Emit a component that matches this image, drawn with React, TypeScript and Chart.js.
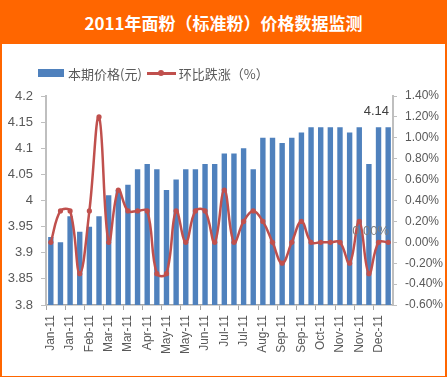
import React, { useEffect, useRef } from "react";
import { Chart, registerables } from "chart.js";

Chart.register(...registerables);

const TITLE = "2011年面粉（标准粉）价格数据监测";
const BAR_LABEL = "本期价格(元)";
const LINE_LABEL = "环比跌涨（%）";

const categories = [
  "Jan-11", "Jan-11", "Jan-11", "Feb-11", "Feb-11", "Feb-11",
  "Mar-11", "Mar-11", "Mar-11", "Apr-11", "Apr-11", "Apr-11",
  "May-11", "May-11", "May-11", "Jun-11", "Jun-11", "Jun-11",
  "Jul-11", "Jul-11", "Jul-11", "Aug-11", "Aug-11", "Aug-11",
  "Sep-11", "Sep-11", "Sep-11", "Oct-11", "Oct-11", "Oct-11",
  "Nov-11", "Nov-11", "Nov-11", "Dec-11", "Dec-11", "Dec-11",
];

const priceValues = [
  3.93, 3.92, 3.97, 3.94, 3.95, 3.97,
  4.01, 4.02, 4.03, 4.06, 4.07, 4.06,
  4.02, 4.04, 4.06, 4.06, 4.07, 4.07,
  4.09, 4.09, 4.10, 4.06, 4.12, 4.12,
  4.11, 4.12, 4.13, 4.14, 4.14, 4.14,
  4.14, 4.13, 4.14, 4.07, 4.14, 4.14,
];

const changeValues = [
  0.0, 0.3, 0.3, -0.3, 0.3, 1.2,
  0.0, 0.5, 0.3, 0.3, 0.3, -0.3,
  -0.3, 0.3, 0.0, 0.3, 0.3, 0.0,
  0.5, 0.0, 0.2, 0.3, 0.2, 0.0,
  -0.2, 0.0, 0.2, 0.0, 0.0, 0.0,
  0.0, -0.2, 0.2, -0.3, 0.0, 0.0,
];

const leftTicks = { min: 3.8, max: 4.2, step: 0.05 };
const rightTicks = { min: -0.6, max: 1.4, step: 0.2 };

const BLUE = "#4F81BD";
const RED = "#C0504D";
const TEXT = "#595959";
const AXIS = "#BFBFBF";
const FONT = "'Liberation Sans', Arial, sans-serif";
const CJK = "'Noto Sans CJK SC', sans-serif";

const labelPlugin = {
  id: "endLabels",
  afterDatasetsDraw(chart: any) {
    const ctx = chart.ctx;
    const area = chart.chartArea;
    ctx.save();
    ctx.font = `13px ${FONT}`;
    ctx.textAlign = "right";
    // bar label on last bar
    const barMeta = chart.getDatasetMeta(1);
    const lastBar = barMeta.data[barMeta.data.length - 1];
    if (lastBar) {
      ctx.fillStyle = "#404040";
      ctx.textBaseline = "bottom";
      const x = Math.min(lastBar.x + 1, area.right - 4);
      ctx.fillText(priceValues[priceValues.length - 1].toFixed(2), x, lastBar.y - 9);
    }
    const lineMeta = chart.getDatasetMeta(0);
    const lastPt = lineMeta.data[lineMeta.data.length - 1];
    if (lastPt) {
      ctx.fillStyle = "#7F7F7F";
      ctx.textBaseline = "middle";
      const x = Math.min(lastPt.x + 1, area.right - 4);
      ctx.fillText(changeValues[changeValues.length - 1].toFixed(2) + "%", x, lastPt.y - 11);
    }
    ctx.restore();
  },
};

export default function App() {
  const ref = useRef<HTMLCanvasElement | null>(null);

  useEffect(() => {
    if (!ref.current) return;
    const chart = new Chart(ref.current, {
      type: "bar",
      data: {
        labels: categories,
        datasets: [
          {
            type: "line",
            label: LINE_LABEL,
            data: changeValues,
            yAxisID: "y1",
            borderColor: RED,
            backgroundColor: RED,
            borderWidth: 2.5,
            pointRadius: 2.6,
            pointBorderWidth: 0,
            pointBackgroundColor: RED,
            tension: 0.4,
            order: 0,
          } as any,
          {
            type: "bar",
            label: BAR_LABEL,
            data: priceValues,
            yAxisID: "y",
            backgroundColor: BLUE,
            borderWidth: 0,
            categoryPercentage: 1,
            barPercentage: 0.56,
            order: 1,
          } as any,
        ],
      },
      options: {
        responsive: false,
        animation: false,
        layout: { padding: { top: 52, left: 0, right: 0, bottom: 0 } },
        plugins: {
          legend: { display: false },
          tooltip: { enabled: false },
          title: { display: false },
        },
        scales: {
          x: {
            offset: true,
            grid: {
              offset: true,
              drawOnChartArea: false,
              drawTicks: true,
              tickLength: 5,
              tickColor: (c: any) => (c.index % 2 === 0 ? "#A6A6A6" : "rgba(0,0,0,0)"),
            },
            border: { display: true, color: "#A6A6A6", width: 1.5 },
            ticks: {
              autoSkip: false,
              minRotation: 90,
              maxRotation: 90,
              padding: 5,
              color: TEXT,
              font: { family: FONT, size: 12 },
              callback: (_v: any, i: number) => (i % 2 === 0 ? categories[i] : ""),
            },
            afterFit: (s: any) => {
              s.height = 71;
            },
          },
          y: {
            position: "left",
            min: leftTicks.min,
            max: leftTicks.max,
            grid: { drawOnChartArea: false, drawTicks: true, tickLength: 5, tickColor: AXIS },
            border: { display: true, color: AXIS, width: 2 },
            ticks: {
              stepSize: leftTicks.step,
              padding: 8,
              color: TEXT,
              font: { family: FONT, size: 13 },
              callback: (v: any) => String(Number(Number(v).toFixed(2))),
            },
            afterFit: (s: any) => {
              s.width = 44;
            },
          },
          y1: {
            position: "right",
            min: rightTicks.min,
            max: rightTicks.max,
            grid: { drawOnChartArea: false, drawTicks: true, tickLength: 4, tickColor: AXIS },
            border: { display: true, color: AXIS, width: 2 },
            ticks: {
              stepSize: rightTicks.step,
              padding: 8,
              color: TEXT,
              font: { family: FONT, size: 12 },
              callback: (v: any) => Number(v).toFixed(2) + "%",
            },
            afterFit: (s: any) => {
              s.width = 52;
            },
          },
        },
      } as any,
      plugins: [labelPlugin],
    });
    return () => chart.destroy();
  }, []);

  return (
    <div
      style={{
        position: "fixed",
        left: 0,
        top: 0,
        width: 447,
        height: 377,
        background: "#FF6600",
        overflow: "hidden",
      }}
    >
      <div
        style={{
          position: "absolute",
          left: 0,
          top: 0,
          width: 447,
          height: 44,
          lineHeight: "46px",
          textAlign: "center",
          color: "#FFFFFF",
          fontFamily: CJK,
          fontWeight: 700,
          fontSize: 17,
          whiteSpace: "nowrap",
        }}
      >
        {TITLE}
      </div>
      <div
        style={{
          position: "absolute",
          left: 2,
          top: 44,
          width: 443,
          height: 332,
          background: "#FFFFFF",
        }}
      >
        <canvas
          ref={ref}
          width={443}
          height={332}
          style={{ position: "absolute", left: 0, top: 0, width: 443, height: 332 }}
        />
        <div
          style={{
            position: "absolute",
            left: 36,
            top: 20,
            height: 18,
            display: "flex",
            alignItems: "center",
            fontFamily: CJK,
            fontSize: 13,
            color: TEXT,
            whiteSpace: "nowrap",
          }}
        >
          <span style={{ display: "inline-block", width: 26, height: 8, background: BLUE, marginRight: 4 }} />
          <span>{BAR_LABEL}</span>
          <span style={{ position: "relative", display: "inline-block", width: 29, height: 8, marginLeft: 5, marginRight: 3 }}>
            <span style={{ position: "absolute", left: 0, top: 3, width: 29, height: 2.5, background: RED }} />
            <span style={{ position: "absolute", left: 11.5, top: 1, width: 6, height: 6, borderRadius: 3, background: RED }} />
          </span>
          <span>{LINE_LABEL}</span>
        </div>
      </div>
    </div>
  );
}
